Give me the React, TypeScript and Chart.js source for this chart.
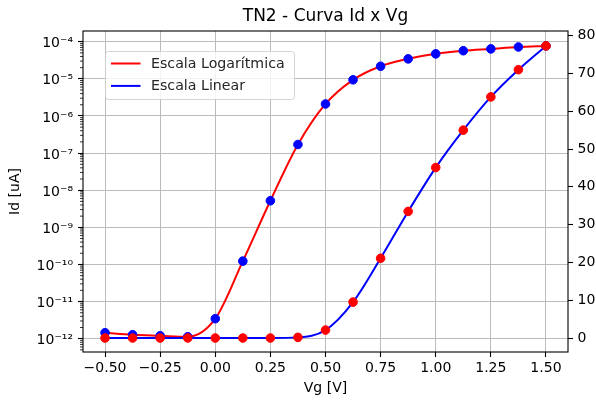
import React, { useEffect, useRef } from 'react';
import { Chart, registerables } from 'chart.js';

Chart.register(...registerables);

// ---- data ----
const vg = [-0.5, -0.375, -0.25, -0.125, 0, 0.125, 0.25, 0.375, 0.5, 0.625, 0.75, 0.875, 1.0, 1.125, 1.25, 1.375, 1.5];
const idLog = [1.45e-12, 1.28e-12, 1.2e-12, 1.13e-12, 3.46e-12, 1.23e-10, 5.2e-9, 1.7e-7, 2.1e-6, 9.4e-6, 2.18e-5, 3.45e-5, 4.7e-5, 5.7e-5, 6.4e-5, 7.2e-5, 7.7e-5];
const idLinear = [0, 0, 0, 0, 0, 0, 0, 0.17, 2.1, 9.5, 21.1, 33.5, 45.1, 55.0, 63.8, 71.0, 77.3];
const xTicks = [-0.5, -0.25, 0, 0.25, 0.5, 0.75, 1.0, 1.25, 1.5];
const logTicks = [1e-12, 1e-11, 1e-10, 1e-9, 1e-8, 1e-7, 1e-6, 1e-5, 1e-4];
const linTicks = [0, 10, 20, 30, 40, 50, 60, 70, 80];
const seriesNames = ['Escala Logarítmica', 'Escala Linear'];
const titleText = 'TN2 - Curva Id x Vg';
const xTitle = 'Vg [V]';
const yTitle = 'Id [uA]';

const FONT = "'DejaVu Sans', sans-serif";
const GRID = '#bcbcbc';
const SUP: Record<string, string> = {
  '0': '⁰', '1': '¹', '2': '²', '3': '³', '4': '⁴', '5': '⁵', '6': '⁶', '7': '⁷', '8': '⁸', '9': '⁹', '-': '⁻',
};
const sup = (n: number) => String(n).split('').map((c) => SUP[c] ?? c).join('');

const minorTicksPlugin = {
  id: 'minorLogTicks',
  afterDraw(chart: any) {
    const s = chart.scales.y;
    const ctx = chart.ctx;
    const left = chart.chartArea.left;
    ctx.save();
    ctx.strokeStyle = '#000';
    ctx.lineWidth = 0.8;
    for (let k = -14; k <= -3; k++) {
      for (let m = 2; m <= 9; m++) {
        const v = m * Math.pow(10, k);
        if (v < s.min || v > s.max) continue;
        const y = s.getPixelForValue(v);
        ctx.beginPath();
        ctx.moveTo(left - 3, y);
        ctx.lineTo(left, y);
        ctx.stroke();
      }
    }
    ctx.restore();
  },
};

const framePlugin = {
  id: 'frame',
  afterDatasetsDraw(chart: any) {
    const { left, top, right, bottom } = chart.chartArea;
    const ctx = chart.ctx;
    ctx.save();
    ctx.strokeStyle = '#000';
    ctx.lineWidth = 1.1;
    ctx.strokeRect(left, top, right - left, bottom - top);
    ctx.restore();
  },
};

const legendPlugin = {
  id: 'innerLegend',
  afterDraw(chart: any) {
    const ctx = chart.ctx;
    const { left, top } = chart.chartArea;
    const bx = left + 22;
    const by = top + 20;
    const bw = 189;
    const bh = 48;
    ctx.save();
    ctx.fillStyle = 'rgba(255,255,255,0.8)';
    ctx.strokeStyle = 'rgba(204,204,204,0.8)';
    ctx.lineWidth = 1;
    ctx.beginPath();
    (ctx as any).roundRect(bx + 0.5, by + 0.5, bw, bh, 3);
    ctx.fill();
    ctx.stroke();
    ctx.font = `14.2px ${FONT}`;
    ctx.textBaseline = 'middle';
    ctx.textAlign = 'left';
    chart.data.datasets.forEach((ds: any, i: number) => {
      const y = by + 12.5 + i * 22.4;
      ctx.strokeStyle = ds.borderColor;
      ctx.lineWidth = 2;
      ctx.beginPath();
      ctx.moveTo(bx + 6, y);
      ctx.lineTo(bx + 35.5, y);
      ctx.stroke();
      ctx.fillStyle = '#262626';
      ctx.fillText(ds.label, bx + 46, y + 0.5);
    });
    ctx.restore();
  },
};

export default function App() {
  const ref = useRef<HTMLCanvasElement | null>(null);
  useEffect(() => {
    document.body.style.margin = '0';
    const canvas = ref.current;
    if (!canvas) return;
    const tickFont = { family: FONT, size: 14 };
    const chart = new Chart(canvas, {
      type: 'line',
      data: {
        datasets: [
          {
            label: seriesNames[0],
            data: vg.map((x, i) => ({ x, y: idLog[i] })),
            yAxisID: 'y',
            borderColor: '#ff0000',
            backgroundColor: '#0000ff',
            pointBackgroundColor: '#0000ff',
            pointBorderColor: '#0000ff',
            pointRadius: 4.3,
            pointBorderWidth: 1,
            borderWidth: 2,
            cubicInterpolationMode: 'monotone',
            fill: false,
            order: 1,
          },
          {
            label: seriesNames[1],
            data: vg.map((x, i) => ({ x, y: idLinear[i] })),
            yAxisID: 'y1',
            borderColor: '#0000ff',
            backgroundColor: '#ff0000',
            pointBackgroundColor: '#ff0000',
            pointBorderColor: '#ff0000',
            pointRadius: 4.3,
            pointBorderWidth: 1,
            borderWidth: 2,
            cubicInterpolationMode: 'monotone',
            fill: false,
            order: 0,
          },
        ],
      } as any,
      options: {
        animation: false,
        responsive: false,
        devicePixelRatio: 1,
        layout: { padding: 0 },
        events: [],
        plugins: {
          legend: { display: false },
          tooltip: { enabled: false },
          title: {
            display: true,
            text: titleText,
            fullSize: false,
            color: '#000',
            font: { family: FONT, size: 17, weight: 'normal' },
            padding: { top: 6, bottom: 4.6 },
          },
        },
        scales: {
          x: {
            type: 'linear',
            min: -0.6,
            max: 1.6,
            afterBuildTicks: (s: any) => {
              s.ticks = xTicks.map((v) => ({ value: v }));
            },
            afterFit: (s: any) => {
              s.height = 51;
            },
            ticks: {
              autoSkip: false,
              maxRotation: 0,
              color: '#000',
              font: tickFont,
              padding: 3,
              callback: (v: any) => (Number(v) < 0 ? '−' : '') + Math.abs(Number(v)).toFixed(2),
            },
            grid: { color: GRID, lineWidth: 1, tickLength: 5, tickColor: '#000', tickWidth: 1.1 },
            border: { display: false },
            title: { display: true, text: xTitle, color: '#000', font: tickFont, padding: { top: 0, bottom: 6.6 } },
          },
          y: {
            type: 'logarithmic',
            position: 'left',
            min: 4.38e-13,
            max: 1.94e-4,
            afterBuildTicks: (s: any) => {
              s.ticks = logTicks.map((v) => ({ value: v, major: true }));
            },
            afterFit: (s: any) => {
              s.width = 83;
            },
            ticks: {
              autoSkip: false,
              color: '#000',
              font: tickFont,
              padding: 5,
              labelOffset: 2,
              callback: (v: any) => '10' + sup(Math.round(Math.log10(Number(v)))),
            },
            grid: { color: GRID, lineWidth: 1, tickLength: 5, tickColor: '#000', tickWidth: 1.1 },
            border: { display: false },
            title: { display: true, text: yTitle, color: '#000', font: tickFont, padding: { top: 7, bottom: 0 } },
          },
          y1: {
            type: 'linear',
            position: 'right',
            min: -3.7,
            max: 81.24,
            afterBuildTicks: (s: any) => {
              s.ticks = linTicks.map((v) => ({ value: v }));
            },
            afterFit: (s: any) => {
              s.width = 28;
            },
            ticks: {
              autoSkip: false,
              color: '#000',
              font: tickFont,
              padding: 4.5,
              callback: (v: any) => String(v),
            },
            grid: { drawOnChartArea: false, tickLength: 5, tickColor: '#000', tickWidth: 1.1 },
            border: { display: false },
          },
        },
      } as any,
      plugins: [minorTicksPlugin, framePlugin, legendPlugin],
    });
    return () => chart.destroy();
  }, []);
  return <canvas ref={ref} width={596} height={403} style={{ display: 'block' }} />;
}
